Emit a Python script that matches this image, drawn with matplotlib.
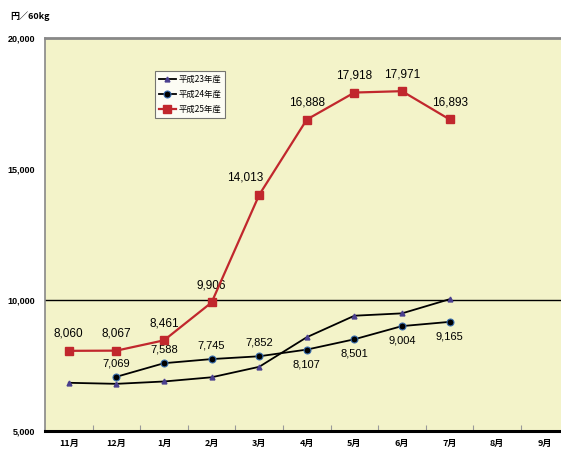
import matplotlib
matplotlib.use("Agg")
import matplotlib.pyplot as plt
from matplotlib.ticker import FuncFormatter, FixedLocator
import numpy as np

plt.rcParams['font.family'] = ['Liberation Sans', 'Noto Sans CJK JP', 'DejaVu Sans']
jp = ['Noto Sans CJK JP', 'DejaVu Sans']

months = ['11月', '12月', '1月', '2月', '3月', '4月', '5月', '6月', '7月', '8月', '9月']
h23 = [6840, 6800, 6890, 7050, 7450, 8580, 9400, 9490, 10030]
h24 = [None, 7069, 7588, 7745, 7852, 8107, 8501, 9004, 9165]
h25 = [8060, 8067, 8461, 9906, 14013, 16888, 17918, 17971, 16893]
h24_below = [False, False, False, False, False, True, True, True, True]

bg = '#f3f3c9'
red = '#c1272d'

fig = plt.figure(figsize=(5.61, 4.5), dpi=100)
ax = fig.add_axes([45 / 561, 19 / 450, 523.6 / 561, 393 / 450])
ax.set_facecolor(bg)

x = np.arange(len(h25))

ax.plot(x, h23, color='black', lw=1.3, marker='^', ms=3.5,
        mfc='#4a3f8f', mec='#4a3f8f', label='平成23年産', zorder=3)
x24 = [i for i, v in enumerate(h24) if v is not None]
y24 = [v for v in h24 if v is not None]
ax.plot(x24, y24, color='black', lw=1.3, marker='o', ms=5,
        mfc='black', mec='#3a6fb0', mew=0.8, label='平成24年産', zorder=3)
ax.plot(x, h25, color=red, lw=1.6, marker='s', ms=6,
        mfc=red, mec=red, label='平成25年産', zorder=4)

ax.axhline(10000, color='black', lw=1, zorder=2)

for i, v in enumerate(h25):
    # the steep 3月 point has its label pushed left off the line
    dx = -10 if i == 4 else 0
    ax.annotate(f'{v:,}', (i, v), xytext=(dx, 8), textcoords='offset points',
                ha='center', va='bottom', fontsize=8.5)
for i, v in zip(x24, y24):
    below = h24_below[i]
    ax.annotate(f'{v:,}', (i, v), xytext=(0, -7 if below else 6),
                textcoords='offset points', ha='center',
                va='top' if below else 'bottom', fontsize=8)

ax.set_xlim(-0.5, len(months) - 0.5)
ax.set_ylim(5000, 20000)
ax.set_xticks(np.arange(len(months)))
ax.set_xticklabels(months, fontsize=6.5, fontweight='bold', family=jp)
ax.tick_params(axis='x', length=0, pad=6)
ax.xaxis.set_minor_locator(FixedLocator(np.arange(0.5, len(months) - 0.5, 1)))
ax.tick_params(axis='x', which='minor', direction='in', length=4,
               color='#999999', width=0.8)

ax.set_yticks([5000, 10000, 15000, 20000])
ax.yaxis.set_major_formatter(FuncFormatter(lambda v, p: f'{int(v):,}'))
ax.tick_params(axis='y', length=0, pad=7, labelsize=6.5)
for lab in ax.get_yticklabels():
    lab.set_fontweight('bold')

ax.spines['left'].set_color('#888888')
ax.spines['left'].set_linewidth(1.2)
ax.spines['top'].set_color('#888888')
ax.spines['top'].set_linewidth(2)
ax.spines['right'].set_visible(False)
ax.spines['bottom'].set_color('black')
ax.spines['bottom'].set_linewidth(2.2)

fig.text(10 / 561, 1 - 16 / 450, '円／60kg', fontsize=6.5, fontweight='bold',
         va='center', family=jp)

leg = ax.legend(loc='upper left', bbox_to_anchor=(0.21, 0.917),
                frameon=True, fancybox=False, handlelength=2.0,
                borderpad=0.5, labelspacing=0.7, handletextpad=0.3,
                borderaxespad=0, prop={'family': jp, 'size': 6})
leg.get_frame().set_edgecolor('#555555')
leg.get_frame().set_facecolor('white')
leg.get_frame().set_linewidth(0.8)

fig.savefig('out.png', dpi=100)
